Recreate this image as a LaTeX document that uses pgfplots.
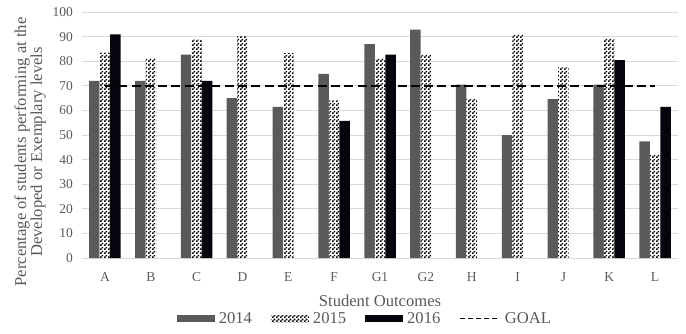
\documentclass[border=0pt]{standalone}
\usepackage{fontspec}
\setmainfont{Liberation Serif}
\usepackage{pgfplots}
\pgfplotsset{compat=1.18}
\usetikzlibrary{patterns.meta}

\definecolor{txtgray}{HTML}{595959}
\definecolor{bar14}{HTML}{5A5A5A}
\definecolor{bar16}{HTML}{05050D}
\definecolor{gridgray}{HTML}{D9D9D9}

% black/white checkerboard for the 2015 bars
\pgfdeclarepattern{
  name=finechecker,
  type=uncolored,
  bottom left={\pgfpoint{0pt}{0pt}},
  top right={\pgfpoint{4pt}{4pt}},
  tile size={\pgfpoint{4pt}{4pt}},
  code={
    \pgfpathrectangle{\pgfpointorigin}{\pgfpoint{2pt}{2pt}}
    \pgfpathrectangle{\pgfpoint{2pt}{2pt}}{\pgfpoint{2pt}{2pt}}
    \pgfusepath{fill}
  }
}

\pgfplotsset{
  barbox/.style={
    legend image code/.code={\fill[##1, draw=none] (0pt,-3.5pt) rectangle (38pt,3.5pt);}
  }
}

\begin{document}
\begin{tikzpicture}
\useasboundingbox (-82pt,-75pt) rectangle (604pt,258pt);
\begin{axis}[
  at={(0pt,0pt)}, anchor=south west,
  scale only axis,
  width=596pt, height=246pt,
  xmin=-0.5, xmax=12.5,
  ymin=0, ymax=100,
  xtick={0,...,12},
  xticklabels={A,B,C,D,E,F,G1,G2,H,I,J,K,L},
  ytick={0,10,...,100},
  major tick length=0pt,
  axis line style={draw=none},
  ymajorgrids,
  grid style={gridgray, line width=0.9pt},
  tick label style={text=txtgray, font=\fontsize{13.5}{15}\selectfont},
  /pgf/number format/assume math mode=true,
  xticklabel style={anchor=base, inner sep=0pt, yshift=-23pt},
  yticklabel style={anchor=east, inner sep=0pt, xshift=-9pt},
  xlabel={Student Outcomes},
  ylabel={Percentage of students performing at the\\Developed or Exemplary levels},
  every axis x label/.style={at={(axis description cs:0.5,0)}, anchor=base,
    yshift=-48pt, inner sep=0pt, text=txtgray, font=\fontsize{16.6}{16}\selectfont},
  every axis y label/.style={at={([xshift=-52pt]axis description cs:0,0.431)},
    rotate=90, anchor=center, align=center, inner sep=0pt, text=txtgray,
    font=\fontsize{16.6}{16}\selectfont},
  legend columns=4,
  legend style={at={(axis description cs:0.473,0)}, anchor=center, yshift=-60.5pt,
    draw=none, fill=none, inner sep=0pt, text=txtgray,
    font=\fontsize{16.6}{16}\selectfont,
    nodes={inner sep=0pt},
    /tikz/every odd column/.append style={column sep=4pt},
    /tikz/every even column/.append style={column sep=19pt}},
]

% 2014
\addplot[ybar, bar width=10.5pt, bar shift=-10.5pt, fill=bar14, draw=none, barbox]
  coordinates {(0,72.0) (1,72.0) (2,82.7) (3,65.0) (4,61.4) (5,74.8) (6,86.9)
               (7,92.8) (8,70.5) (9,49.9) (10,64.6) (11,70.5) (12,47.4)};
\addlegendentry{2014}

% 2015
\addplot[ybar, bar width=10.5pt, bar shift=0pt, fill=white, draw=none,
  postaction={pattern=finechecker, pattern color=black}, barbox]
  coordinates {(0,83.5) (1,81.3) (2,88.8) (3,90.2) (4,83.3) (5,64.1) (6,81.3)
               (7,82.7) (8,64.6) (9,90.9) (10,77.5) (11,89.4) (12,42.0)};
\addlegendentry{2015}

% 2016
\addplot[ybar, bar width=10.5pt, bar shift=10.5pt, fill=bar16, draw=none, barbox]
  coordinates {(0,90.9) (2,72.0) (5,55.7) (6,82.7) (11,80.4) (12,61.4)};
\addlegendentry{2016}

% target level
\addplot[black, line width=2.6pt, dash pattern=on 9pt off 4.3pt,
  legend image code/.code={\draw[black, line width=1.6pt, dash pattern=on 5pt off 3pt] (0pt,0pt) -- (40pt,0pt);}]
  coordinates {(0,70) (12,70)};
\addlegendentry{GOAL}

\end{axis}
\end{tikzpicture}
\end{document}
